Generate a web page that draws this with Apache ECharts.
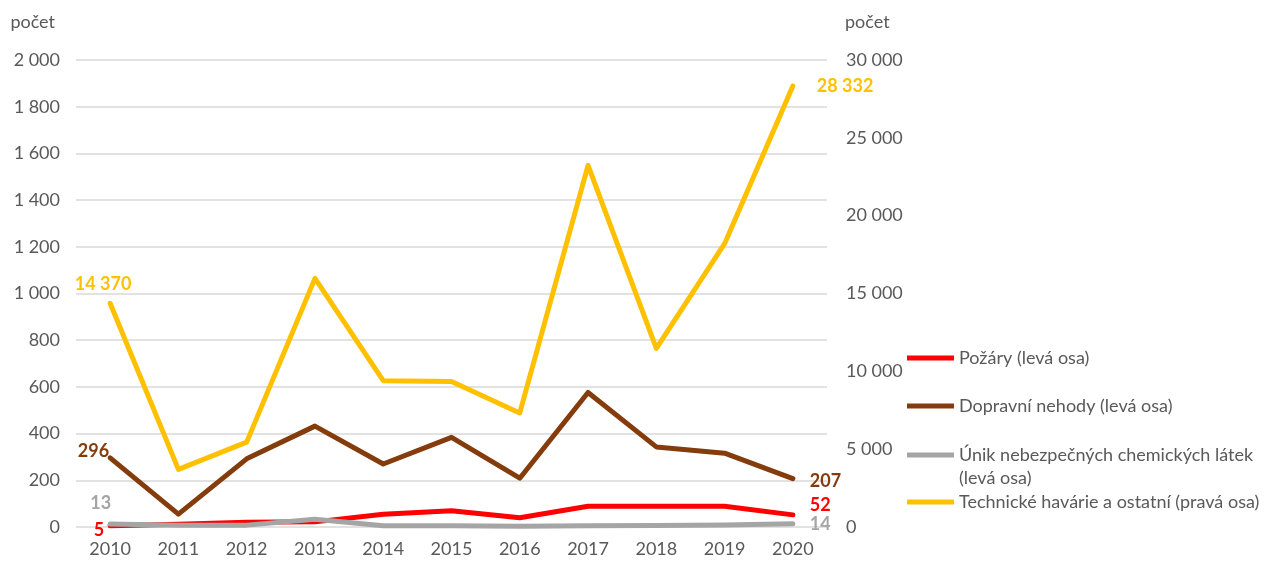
<!DOCTYPE html>
<html>
<head>
<meta charset="utf-8">
<script src="https://cdn.jsdelivr.net/npm/echarts@6/dist/echarts.min.js"></script>
<style>
  html, body { margin: 0; padding: 0; background: #fff; }
  #chart { width: 1277px; height: 563px; }
</style>
</head>
<body>
<div id="chart"></div>
<script>
// Years on the category axis
const years = ['2010', '2011', '2012', '2013', '2014', '2015', '2016', '2017', '2018', '2019', '2020'];

// Events per year (left axis)
const pozary = [5, 12, 20, 22, 55, 70, 40, 89, 89, 89, 52];
const dopravniNehody = [296, 55, 292, 432, 270, 384, 209, 576, 343, 316, 207];
const unikLatek = [13, 8, 8, 33, 5, 5, 3, 5, 6, 9, 14];

// Technical accidents and other events per year (right axis)
const technickeHavarie = [14370, 3700, 5450, 15970, 9400, 9350, 7330, 23230, 11470, 18200, 28332];

// Axis tick settings
const leftTicks = { min: 0, max: 2000, interval: 200 };
const rightTicks = { min: 0, max: 30000, interval: 5000 };

const FONT = 'Lato, "Open Sans", sans-serif';
const AXIS_GREY = '#595959';
const FS = 18;

// Czech style thousands separator: 14 370
function fmt(v) {
  return String(Math.round(v)).replace(/\B(?=(\d{3})+(?!\d))/g, ' ');
}

// Only the first and last point of each line carry a value label
function withEndLabels(values, color, firstLabel, lastLabel) {
  return values.map((v, i) => {
    const item = { value: v };
    const cfg = i === 0 ? firstLabel : (i === values.length - 1 ? lastLabel : null);
    if (cfg) {
      item.label = Object.assign({
        show: true,
        color: color,
        fontWeight: 'bold',
        fontSize: 18,
        fontFamily: FONT,
        formatter: p => fmt(p.value)
      }, cfg);
    }
    return item;
  });
}

const series = [
  {
    name: 'Požáry (levá osa)', color: '#FF0000', values: pozary, axis: 0,
    first: { position: 'left', distance: 6, offset: [0, 4] },
    last: { position: 'right', distance: 17, offset: [0, -10] }
  },
  {
    name: 'Dopravní nehody (levá osa)', color: '#843C0C', values: dopravniNehody, axis: 0,
    first: { position: 'left', distance: 1, offset: [0, -7] },
    last: { position: 'right', distance: 17, offset: [0, 3] }
  },
  {
    name: 'Únik nebezpečných chemických látek (levá osa)', color: '#A5A5A5', values: unikLatek, axis: 0,
    first: { position: 'left', distance: 0, offset: [1, -21] },
    last: { position: 'right', distance: 17, offset: [0, 0] }
  },
  {
    name: 'Technické havárie a ostatní (pravá osa)', color: '#FFC000', values: technickeHavarie, axis: 1,
    first: { position: 'top', distance: 10, offset: [-7, 0] },
    last: { position: 'right', distance: 24, offset: [0, 0] }
  }
];

// One legend block per entry so every row sits where it belongs.
// The wrapped entry gets an empty first line so its icon lines up with the first text line.
const LH = 23;
const legendTops = [358 - LH / 2, 406 - LH / 2, 455 - LH * 1.5, 502 - LH / 2];
const legends = series.map((s, i) => ({
  data: [s.name],
  orient: 'vertical',
  left: 907,
  top: legendTops[i],
  padding: 0,
  itemWidth: 47,
  itemHeight: 5,
  itemGap: 0,
  icon: 'rect',
  selectedMode: false,
  formatter: name => (i === 2 ? ' \n' + name.replace(' (levá', '\n(levá') : name),
  textStyle: { color: AXIS_GREY, fontSize: FS, fontFamily: FONT, lineHeight: LH }
}));

const chart = echarts.init(document.getElementById('chart'), null, { renderer: 'canvas' });

chart.setOption({
  animation: false,
  backgroundColor: '#ffffff',
  grid: { left: 76, right: 450, top: 60, bottom: 36, containLabel: false },
  legend: legends,
  xAxis: {
    type: 'category',
    data: years,
    boundaryGap: true,
    axisLine: { show: false },
    axisTick: { show: false },
    axisLabel: { color: AXIS_GREY, fontSize: FS, fontFamily: FONT, margin: 13 }
  },
  yAxis: [
    {
      type: 'value',
      min: leftTicks.min, max: leftTicks.max, interval: leftTicks.interval,
      name: 'počet',
      nameLocation: 'end',
      nameGap: 38,
      nameTextStyle: { color: AXIS_GREY, fontSize: FS, fontFamily: FONT, align: 'right', verticalAlign: 'middle', padding: [0, 21, 0, 0] },
      axisLine: { show: false },
      axisTick: { show: false },
      axisLabel: { color: AXIS_GREY, fontSize: FS, fontFamily: FONT, margin: 16, formatter: fmt },
      splitLine: { lineStyle: { color: '#D9D9D9', width: 1.5 } }
    },
    {
      type: 'value',
      min: rightTicks.min, max: rightTicks.max, interval: rightTicks.interval,
      name: 'počet',
      nameLocation: 'end',
      nameGap: 38,
      nameTextStyle: { color: AXIS_GREY, fontSize: FS, fontFamily: FONT, align: 'left', verticalAlign: 'middle', padding: [0, 0, 0, 18] },
      axisLine: { show: false },
      axisTick: { show: false },
      axisLabel: { color: AXIS_GREY, fontSize: FS, fontFamily: FONT, margin: 19, align: 'left', formatter: fmt },
      splitLine: { show: false }
    }
  ],
  series: series.map(s => ({
    name: s.name,
    type: 'line',
    yAxisIndex: s.axis,
    data: withEndLabels(s.values, s.color, s.first, s.last),
    color: s.color,
    symbol: 'circle',
    symbolSize: 0,
    showSymbol: true,
    lineStyle: { color: s.color, width: 5, cap: 'round', join: 'round' },
    itemStyle: { color: s.color },
    emphasis: { disabled: true }
  }))
});
</script>
</body>
</html>
